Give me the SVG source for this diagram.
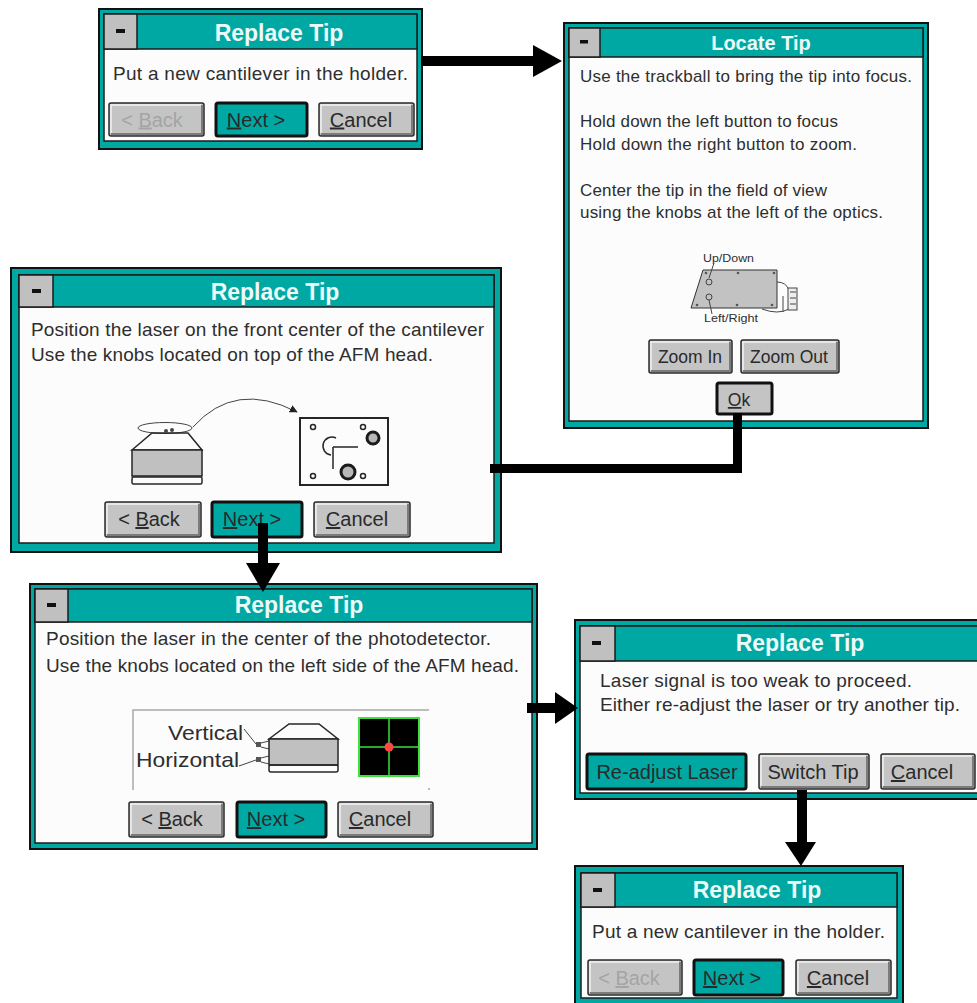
<svg xmlns="http://www.w3.org/2000/svg" width="977" height="1003" viewBox="0 0 977 1003">
<defs>
<style>
.frame{fill:#00a8a4;stroke:#111;stroke-width:2}
.client{fill:#fcfcfc;stroke:#1b1b1b;stroke-width:1.5}
.bar{fill:#00a8a4;stroke:#1b1b1b;stroke-width:1.5}
.sys{fill:#c0c0c0;stroke:#1b1b1b;stroke-width:1.5}
.dash{fill:#111}
.ttl{font-family:"Liberation Sans",Arial,sans-serif;font-weight:bold;fill:#ecfbf8;text-anchor:middle}
.txt{font-family:"Liberation Sans",Arial,sans-serif;fill:#2e2e2e}
.btn{fill:#c4c4c4;stroke:#2a2a2a;stroke-width:1.5}
.def{fill:#00a8a4;stroke:#111;stroke-width:3}
.okdef{fill:#c4c4c4;stroke:#111;stroke-width:3}
.hi{fill:none;stroke:#f2f2f2;stroke-width:1.5}
.lo{fill:none;stroke:#7c7c7c;stroke-width:2}
.lbl{font-family:"Liberation Sans",Arial,sans-serif;font-size:20px;fill:#2a2a2a;text-anchor:middle}
.off{fill:#a4a4a4}
.u{text-decoration:underline}
.ink{fill:none;stroke:#262626;stroke-width:1.5}
.thin{fill:none;stroke:#444;stroke-width:1}
.gray{fill:#c0c0c0;stroke:#262626;stroke-width:1.5}
.arrow{fill:#000}
</style>
<marker id="tip" viewBox="0 0 10 10" refX="9" refY="5" markerWidth="8" markerHeight="8" markerUnits="userSpaceOnUse" orient="auto">
<path d="M0,0 L10,5 L0,10 Z" fill="#222"/>
</marker>
</defs>

<rect width="977" height="1003" fill="#fff"/>

<!-- Wizard step: insert a new cantilever -->
<g id="dlg-replace-start">
<rect class="frame" x="99" y="9" width="323" height="140"/>
<rect class="client" x="104" y="14" width="313" height="127"/>
<rect class="bar" x="104" y="14" width="313" height="35"/>
<rect class="sys" x="104" y="14" width="33" height="35"/>
<rect class="dash" x="116" y="29" width="9" height="4"/>
<text class="ttl" x="279" y="41" font-size="23">Replace Tip</text>
<text class="txt" x="113" y="80" font-size="19" textLength="295" lengthAdjust="spacing">Put a new cantilever in the holder.</text>
<rect class="btn" x="109" y="103" width="95" height="33" rx="2"/>
<path class="hi" d="M111,133 V105 H201"/><path class="lo" d="M111,134 H202 V105"/>
<text class="lbl off" x="152" y="126.5">&lt; <tspan class="u">B</tspan>ack</text>
<rect class="def" x="216" y="103" width="91" height="33" rx="2"/>
<text class="lbl" x="256" y="126.5"><tspan class="u">N</tspan>ext &gt;</text>
<rect class="btn" x="319" y="103" width="95" height="33" rx="2"/>
<path class="hi" d="M321,133 V105 H411"/><path class="lo" d="M321,134 H412 V105"/>
<text class="lbl" x="361" y="126.5"><tspan class="u">C</tspan>ancel</text>
</g>

<!-- Locate the tip with the optics -->
<g id="dlg-locate">
<rect class="frame" x="564" y="23" width="364" height="405"/>
<rect class="client" x="569" y="28" width="354" height="393"/>
<rect class="bar" x="569" y="28" width="354" height="29"/>
<rect class="sys" x="569" y="28" width="31" height="29"/>
<rect class="dash" x="580" y="40" width="8" height="3.5"/>
<text class="ttl" x="761" y="50" font-size="20">Locate Tip</text>
<g class="txt" font-size="17">
<text x="580" y="82" textLength="332" lengthAdjust="spacing">Use the trackball to bring the tip into focus.</text>
<text x="580" y="127" textLength="258" lengthAdjust="spacing">Hold down the left button to focus</text>
<text x="580" y="150" textLength="277" lengthAdjust="spacing">Hold down the right button to zoom.</text>
<text x="580" y="196" textLength="247" lengthAdjust="spacing">Center the tip in the field of view</text>
<text x="580" y="218" textLength="303" lengthAdjust="spacing">using the knobs at the left of the optics.</text>
</g>
<g id="optics-sketch">
<text class="txt" x="703" y="262" font-size="10.5" textLength="51" lengthAdjust="spacingAndGlyphs">Up/Down</text>
<path d="M703,270 H777 V308 H691 Z" fill="#c2c2c2" stroke="#333" stroke-width="1"/>
<path class="thin" d="M714,263 L709,278"/>
<circle cx="709" cy="282" r="3" class="thin"/>
<circle cx="709" cy="297" r="3" class="thin"/>
<path class="thin" d="M709,300 L712,314"/>
<g fill="#555">
<circle cx="706" cy="273" r="1.3"/><circle cx="738" cy="273" r="1.3"/><circle cx="774" cy="273" r="1.3"/>
<circle cx="697" cy="305" r="1.3"/><circle cx="737" cy="305" r="1.3"/><circle cx="772" cy="305" r="1.3"/>
</g>
<path class="thin" d="M777,282 Q786,282 789,290"/>
<path class="thin" d="M762,309 Q778,315 789,309"/>
<rect x="788" y="288" width="9" height="22" fill="#eee" stroke="#444" stroke-width="1"/>
<path class="thin" d="M790,292 H796 M790,298 H796 M790,304 H796 M783,296 V312"/>
<text class="txt" x="704" y="322" font-size="10.5" textLength="54" lengthAdjust="spacingAndGlyphs">Left/Right</text>
</g>
<rect class="btn" x="649" y="340" width="83" height="33" rx="2"/>
<path class="hi" d="M651,370 V342 H729"/><path class="lo" d="M651,371 H730 V342"/>
<text class="lbl" x="690" y="363" style="font-size:17.5px">Zoom In</text>
<rect class="btn" x="741" y="340" width="98" height="33" rx="2"/>
<path class="hi" d="M743,370 V342 H836"/><path class="lo" d="M743,371 H837 V342"/>
<text class="lbl" x="789" y="363" style="font-size:17.5px">Zoom Out</text>
<rect class="okdef" x="717" y="383" width="55" height="31" rx="2"/>
<text class="lbl" x="739" y="406" style="font-size:17.5px"><tspan class="u">O</tspan>k</text>
</g>

<!-- Laser positioning on the cantilever -->
<g id="dlg-laser-cantilever">
<rect class="frame" x="11" y="268" width="490" height="284"/>
<rect class="client" x="19" y="275" width="475" height="268"/>
<rect class="bar" x="19" y="275" width="475" height="32"/>
<rect class="sys" x="19" y="275" width="34" height="32"/>
<rect class="dash" x="32" y="289" width="9" height="4"/>
<text class="ttl" x="275" y="300" font-size="23">Replace Tip</text>
<text class="txt" x="31" y="336" font-size="19" textLength="453" lengthAdjust="spacing">Position the laser on the front center of the cantilever</text>
<text class="txt" x="31" y="361" font-size="19" textLength="402" lengthAdjust="spacing">Use the knobs located on top of the AFM head.</text>
<g id="afm-head-top">
<ellipse cx="165" cy="428" rx="27" ry="5.5" class="thin"/>
<path class="ink" d="M132,450 L152,433 H188 L202,450 Z" fill="#fff"/>
<rect class="gray" x="132" y="450" width="70" height="26"/>
<rect class="ink" x="132" y="477" width="70" height="7" rx="1.5" fill="#fff"/>
<circle cx="166" cy="431" r="2" fill="#444"/><circle cx="172" cy="430" r="2" fill="#444"/>
<path class="thin" d="M193,427 Q235,380 297,412" marker-end="url(#tip)"/>
<rect class="ink" x="300" y="418" width="88" height="67" fill="#fff" style="stroke-width:2"/>
<g class="ink"><circle cx="313" cy="427" r="2.5"/><circle cx="363" cy="427" r="2.5"/><circle cx="313" cy="476" r="2.5"/><circle cx="363" cy="476" r="2.5"/></g>
<circle cx="373" cy="438" r="6" fill="#b8b8b8" stroke="#1b1b1b" stroke-width="3"/>
<circle cx="348" cy="472" r="7" fill="#b8b8b8" stroke="#1b1b1b" stroke-width="3"/>
<path class="ink" d="M336,438 A9,9 0 1 0 331,455"/>
<path class="ink" d="M333,447 H358 M333,447 V469"/>
</g>
<rect class="btn" x="105" y="502" width="96" height="35" rx="2"/>
<path class="hi" d="M107,534 V504 H198"/><path class="lo" d="M107,535 H199 V504"/>
<text class="lbl" x="149" y="526">&lt; <tspan class="u">B</tspan>ack</text>
<rect class="def" x="212" y="502" width="90" height="35" rx="2"/>
<text class="lbl" x="252" y="526"><tspan class="u">N</tspan>ext &gt;</text>
<rect class="btn" x="314" y="502" width="96" height="35" rx="2"/>
<path class="hi" d="M316,534 V504 H407"/><path class="lo" d="M316,535 H408 V504"/>
<text class="lbl" x="357" y="526"><tspan class="u">C</tspan>ancel</text>
</g>

<!-- Laser positioning on the photodetector -->
<g id="dlg-laser-detector">
<rect class="frame" x="30" y="584" width="507" height="265"/>
<rect class="client" x="35" y="589" width="497" height="254"/>
<rect class="bar" x="35" y="589" width="497" height="33"/>
<rect class="sys" x="35" y="589" width="33" height="33"/>
<rect class="dash" x="47" y="603" width="9" height="4"/>
<text class="ttl" x="299" y="613" font-size="23">Replace Tip</text>
<text class="txt" x="46" y="645" font-size="19" textLength="445" lengthAdjust="spacing">Position the laser in the center of the photodetector.</text>
<text class="txt" x="46" y="672" font-size="19" textLength="473" lengthAdjust="spacing">Use the knobs located on the left side of the AFM head.</text>
<g id="afm-head-side">
<path d="M133,790 V710 H429" fill="none" stroke="#a8a8a8" stroke-width="1.5"/>
<rect x="428" y="788" width="2" height="2" fill="#bbb"/>
<text class="txt" x="168" y="740" font-size="21" fill="#222" textLength="75" lengthAdjust="spacingAndGlyphs">Vertical</text>
<text class="txt" x="136" y="767" font-size="21" fill="#222" textLength="103" lengthAdjust="spacingAndGlyphs">Horizontal</text>
<path class="thin" d="M244,729 L256,744 M239,766 L256,760"/>
<rect x="256" y="742" width="5" height="5" fill="#555"/>
<rect x="256" y="757" width="5" height="5" fill="#555"/>
<path class="thin" d="M261,743 L269,741 M261,747 L269,749 M261,758 L269,756 M261,762 L269,764"/>
<path class="ink" d="M269,739 L289,724 H319 L338,739 Z" fill="#fff"/>
<rect class="gray" x="269" y="739" width="69" height="26"/>
<rect class="ink" x="269" y="765" width="69" height="7" rx="2" fill="#fff"/>
<rect x="359" y="718" width="60" height="58" fill="#000" stroke="#3de03d" stroke-width="2"/>
<path d="M389,718 V776 M359,747 H419" stroke="#3de03d" stroke-width="1.5"/>
<circle cx="389" cy="747" r="4.5" fill="#ff4646"/>
</g>
<rect class="btn" x="129" y="802" width="95" height="35" rx="2"/>
<path class="hi" d="M131,834 V804 H221"/><path class="lo" d="M131,835 H222 V804"/>
<text class="lbl" x="172" y="826">&lt; <tspan class="u">B</tspan>ack</text>
<rect class="def" x="237" y="802" width="89" height="35" rx="2"/>
<text class="lbl" x="276" y="826"><tspan class="u">N</tspan>ext &gt;</text>
<rect class="btn" x="338" y="802" width="95" height="35" rx="2"/>
<path class="hi" d="M340,834 V804 H430"/><path class="lo" d="M340,835 H431 V804"/>
<text class="lbl" x="380" y="826"><tspan class="u">C</tspan>ancel</text>
</g>

<!-- Weak laser signal warning -->
<g id="dlg-weak-signal">
<rect class="frame" x="575" y="620" width="450" height="179"/>
<rect class="client" x="580" y="626" width="440" height="167"/>
<rect class="bar" x="580" y="626" width="440" height="35"/>
<rect class="sys" x="580" y="626" width="35" height="35"/>
<rect class="dash" x="592" y="641" width="9" height="4"/>
<text class="ttl" x="800" y="651" font-size="23">Replace Tip</text>
<text class="txt" x="600" y="687" font-size="19" textLength="312" lengthAdjust="spacing">Laser signal is too weak to proceed.</text>
<text class="txt" x="600" y="711" font-size="19" textLength="360" lengthAdjust="spacing">Either re-adjust the laser or try another tip.</text>
<rect class="def" x="587" y="754" width="159" height="35" rx="2"/>
<text class="lbl" x="667" y="779">Re-adjust Laser</text>
<rect class="btn" x="759" y="754" width="110" height="35" rx="2"/>
<path class="hi" d="M761,786 V756 H866"/><path class="lo" d="M761,787 H867 V756"/>
<text class="lbl" x="813" y="779">Switch Tip</text>
<rect class="btn" x="881" y="754" width="94" height="35" rx="2"/>
<path class="hi" d="M883,786 V756 H972"/><path class="lo" d="M883,787 H973 V756"/>
<text class="lbl" x="922" y="779"><tspan class="u">C</tspan>ancel</text>
</g>

<!-- Back to the first step with a fresh tip -->
<g id="dlg-replace-again">
<rect class="frame" x="575" y="866" width="328" height="142"/>
<rect class="client" x="581" y="873" width="316" height="125"/>
<rect class="bar" x="581" y="873" width="316" height="34"/>
<rect class="sys" x="581" y="873" width="34" height="34"/>
<rect class="dash" x="593" y="888" width="9" height="4"/>
<text class="ttl" x="757" y="898" font-size="23">Replace Tip</text>
<text class="txt" x="592" y="938" font-size="19" textLength="293" lengthAdjust="spacing">Put a new cantilever in the holder.</text>
<rect class="btn" x="588" y="960" width="94" height="35" rx="2"/>
<path class="hi" d="M590,992 V962 H679"/><path class="lo" d="M590,993 H680 V962"/>
<text class="lbl off" x="629" y="985">&lt; <tspan class="u">B</tspan>ack</text>
<rect class="def" x="694" y="960" width="89" height="35" rx="2"/>
<text class="lbl" x="732" y="985"><tspan class="u">N</tspan>ext &gt;</text>
<rect class="btn" x="796" y="960" width="95" height="35" rx="2"/>
<path class="hi" d="M798,992 V962 H888"/><path class="lo" d="M798,993 H889 V962"/>
<text class="lbl" x="838" y="985"><tspan class="u">C</tspan>ancel</text>
</g>

<!-- Flow connectors -->
<g id="connectors" class="arrow">
<path d="M421,56 H533 V45 L562,61 L533,77 V66 H421 Z"/>
<path d="M733,413 H742 V473 H490 V464 H733 Z"/>
<path d="M258,523 H268 V563 H280 L263,592 L246,563 H258 Z"/>
<path d="M527,703 H555 V692 L578,708 L555,724 V713 H527 Z"/>
<path d="M797,790 H807 V842 H816 L801,866 L785,842 H797 Z"/>
</g>
</svg>
